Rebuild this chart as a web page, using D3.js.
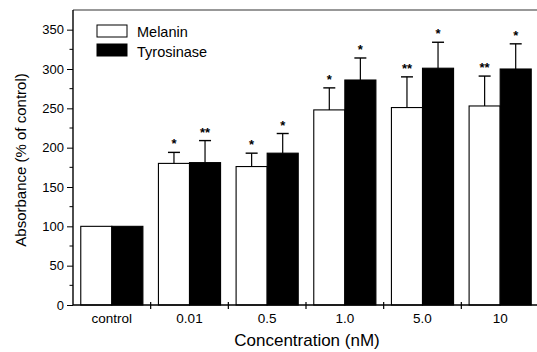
<!DOCTYPE html>
<html>
<head>
<meta charset="utf-8">
<script src="https://cdn.jsdelivr.net/npm/d3@7"></script>
<style>
  html, body { margin: 0; padding: 0; background: #fff; }
  svg { display: block; font-family: "Liberation Sans", Arial, sans-serif; }
</style>
</head>
<body>
<svg id="chart" width="537" height="352"></svg>
<script>
// Concentration groups and measured absorbance (% of control)
const categories = ["control", "0.01", "0.5", "1.0", "5.0", "10"];
const seriesNames = ["Melanin", "Tyrosinase"];
const melanin = [100, 180, 176, 248, 251, 253];
const tyrosinase = [100, 181, 193, 286, 301, 300];
const melaninErr = [0, 14, 17, 28, 39, 38];
const tyrosinaseErr = [0, 28, 25, 28, 33, 32];
const melaninSig = ["", "*", "*", "*", "**", "**"];
const tyrosinaseSig = ["", "**", "*", "*", "*", "*"];
const yTicks = [0, 50, 100, 150, 200, 250, 300, 350];

(function () {
  const svg = d3.select("#chart");
  const plotLeft = 73, plotRight = 539, plotTop = 10, plotBottom = 305;

  const x = d3.scaleBand().domain(categories).range([plotLeft, plotRight]).padding(0);
  const sub = d3.scaleBand().domain(seriesNames)
    .range([x.bandwidth() * 0.1, x.bandwidth() * 0.9]).padding(0);
  const y = d3.scaleLinear().domain([0, 375]).range([plotBottom, plotTop]);

  const rows = categories.map((c, i) => [
    { cat: c, s: "Melanin", v: melanin[i], e: melaninErr[i], sig: melaninSig[i], fill: "#fff" },
    { cat: c, s: "Tyrosinase", v: tyrosinase[i], e: tyrosinaseErr[i], sig: tyrosinaseSig[i], fill: "#000" }
  ]).flat();

  // bars
  const g = svg.append("g");
  g.selectAll("rect.bar").data(rows).join("rect")
    .attr("class", "bar")
    .attr("x", d => x(d.cat) + sub(d.s))
    .attr("y", d => y(d.v))
    .attr("width", sub.bandwidth())
    .attr("height", d => y(0) - y(d.v))
    .attr("fill", d => d.fill)
    .attr("stroke", "#000")
    .attr("stroke-width", 1.1);

  // upward error bars with caps
  const withErr = rows.filter(d => d.e > 0);
  const cx = d => x(d.cat) + sub(d.s) + sub.bandwidth() / 2;
  g.selectAll("line.err").data(withErr).join("line")
    .attr("class", "err")
    .attr("x1", cx).attr("x2", cx)
    .attr("y1", d => y(d.v)).attr("y2", d => y(d.v + d.e))
    .attr("stroke", "#000").attr("stroke-width", 1.2);
  g.selectAll("line.cap").data(withErr).join("line")
    .attr("class", "cap")
    .attr("x1", d => cx(d) - 6).attr("x2", d => cx(d) + 6)
    .attr("y1", d => y(d.v + d.e)).attr("y2", d => y(d.v + d.e))
    .attr("stroke", "#000").attr("stroke-width", 1.4);

  // significance markers
  g.selectAll("text.sig").data(withErr).join("text")
    .attr("class", "sig")
    .attr("x", cx)
    .attr("y", d => y(d.v + d.e) - 4)
    .attr("text-anchor", "middle")
    .attr("font-size", 13)
    .attr("font-weight", "bold")
    .text(d => d.sig);

  // top frame line
  svg.append("line")
    .attr("x1", plotLeft).attr("x2", 537).attr("y1", plotTop).attr("y2", plotTop)
    .attr("stroke", "#333").attr("stroke-width", 1.2);

  // y axis with minor ticks
  const yAxis = svg.append("g").attr("transform", `translate(${plotLeft},0)`)
    .call(d3.axisLeft(y).tickValues(yTicks).tickSize(6).tickPadding(3).tickFormat(d3.format("d")));
  yAxis.select(".domain").attr("d", `M0,${plotTop}V${plotBottom}`).attr("stroke-width", 1.4);
  yAxis.selectAll("text").attr("font-size", 13).attr("font-family", "Liberation Sans, Arial, sans-serif");
  svg.append("g").attr("transform", `translate(${plotLeft},0)`)
    .selectAll("line").data(d3.range(25, 375, 50)).join("line")
    .attr("x1", -3.5).attr("x2", 0).attr("y1", d => y(d)).attr("y2", d => y(d))
    .attr("stroke", "#000");

  // x axis: ticks at group boundaries, labels centred
  const xAxisG = svg.append("g").attr("transform", `translate(0,${plotBottom})`);
  xAxisG.append("line").attr("x1", plotLeft).attr("x2", 537).attr("y1", 0).attr("y2", 0)
    .attr("stroke", "#000").attr("stroke-width", 1.4);
  xAxisG.selectAll("line.tk").data(categories.slice(1)).join("line")
    .attr("class", "tk")
    .attr("x1", d => x(d)).attr("x2", d => x(d))
    .attr("y1", -3).attr("y2", 4)
    .attr("stroke", "#000").attr("stroke-width", 1.2);
  xAxisG.selectAll("text").data(categories).join("text")
    .attr("x", d => x(d) + x.bandwidth() / 2)
    .attr("y", 18)
    .attr("text-anchor", "middle")
    .attr("font-size", 13.5)
    .text(d => d);

  // axis titles
  svg.append("text")
    .attr("x", 307).attr("y", 346)
    .attr("text-anchor", "middle").attr("font-size", 17)
    .text("Concentration (nM)");
  svg.append("text")
    .attr("transform", "translate(26,160) rotate(-90)")
    .attr("text-anchor", "middle").attr("font-size", 15)
    .text("Absorbance (% of control)");

  // legend
  const legend = svg.append("g").attr("transform", "translate(97,25)");
  seriesNames.forEach((s, i) => {
    legend.append("rect")
      .attr("x", 0).attr("y", i * 19).attr("width", 30).attr("height", 12)
      .attr("fill", i === 0 ? "#fff" : "#000").attr("stroke", "#000").attr("stroke-width", 1);
    legend.append("text")
      .attr("x", 40).attr("y", i * 20 + 12)
      .attr("font-size", 14.5)
      .text(s);
  });
})();
</script>
</body>
</html>
